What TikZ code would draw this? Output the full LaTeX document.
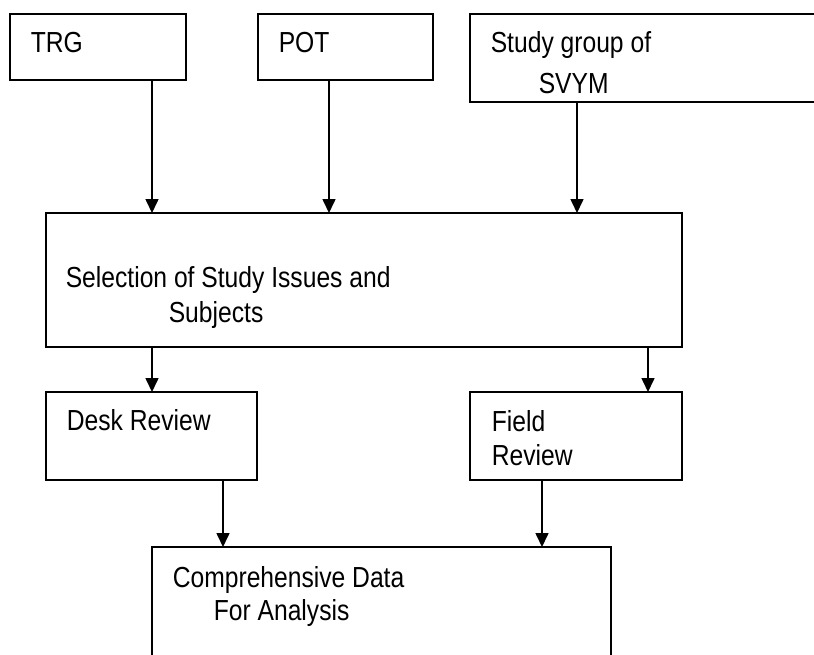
\documentclass[tikz,border=0pt]{standalone}
\usepackage{fontspec}
\setmainfont[FakeStretch=0.85]{Liberation Sans}
\usetikzlibrary{arrows.meta}
\begin{document}
\begin{tikzpicture}[
    x = 1pt, y = -1pt,
    line width = 1.6pt,
    box/.style = {
      shape = rectangle,
      draw = black,
      inner sep = 0pt,
      outer sep = 0pt,
    },
    txt/.style = {
      anchor = base west,
      inner sep = 0pt,
      font = \fontsize{29}{35}\selectfont
    },
    arr/.style = {
      -{Triangle[width = 13pt, length = 14pt]}
    }
  ]
    \useasboundingbox (0, 0) rectangle (814, 654);
    \clip (0, 0) rectangle (814, 654);

    \node[box, minimum width = 176pt, minimum height = 66pt] (trg) at (98, 47) {};
    \node[box, minimum width = 175pt, minimum height = 66pt] (pot) at (345.5, 47) {};
    \node[box, minimum width = 360pt, minimum height = 88pt] (svym) at (650, 58) {};
    \node[box, minimum width = 636pt, minimum height = 134pt] (sel) at (364, 280) {};
    \node[box, minimum width = 211pt, minimum height = 88pt] (desk) at (151.5, 436) {};
    \node[box, minimum width = 212pt, minimum height = 88pt] (field) at (576, 436) {};
    \node[box, minimum width = 459pt, minimum height = 146pt] (data) at (381.5, 620) {};

    \node[txt] (trg1) at (30, 52) {TRG};
    \node[txt] (pot1) at (278, 52) {POT};
    \node[txt] (svym1) at (490, 52) {Study group of};
    \node[txt] (svym2) at (538, 93) {SVYM};
    \node[txt] (sel1) at (65, 287) {Selection of Study Issues and};
    \node[txt] (sel2) at (168, 322) {Subjects};
    \node[txt] (desk1) at (66, 430) {Desk Review};
    \node[txt] (field1) at (491, 431) {Field};
    \node[txt] (field2) at (491, 465) {Review};
    \node[txt] (data1) at (172, 587) {Comprehensive Data};
    \node[txt] (data2) at (213, 620) {For Analysis};

    \coordinate (c1) at (152, 0);
    \coordinate (c2) at (329, 0);
    \coordinate (c3) at (577, 0);
    \coordinate (c4) at (648, 0);
    \coordinate (c5) at (223, 0);
    \coordinate (c6) at (542, 0);

    \draw[arr] (trg.south -| c1) -- (sel.north -| c1);
    \draw[arr] (pot.south -| c2) -- (sel.north -| c2);
    \draw[arr] (svym.south -| c3) -- (sel.north -| c3);
    \draw[arr] (sel.south -| c1) -- (desk.north -| c1);
    \draw[arr] (sel.south -| c4) -- (field.north -| c4);
    \draw[arr] (desk.south -| c5) -- (data.north -| c5);
    \draw[arr] (field.south -| c6) -- (data.north -| c6);
  \end{tikzpicture}
\end{document}
